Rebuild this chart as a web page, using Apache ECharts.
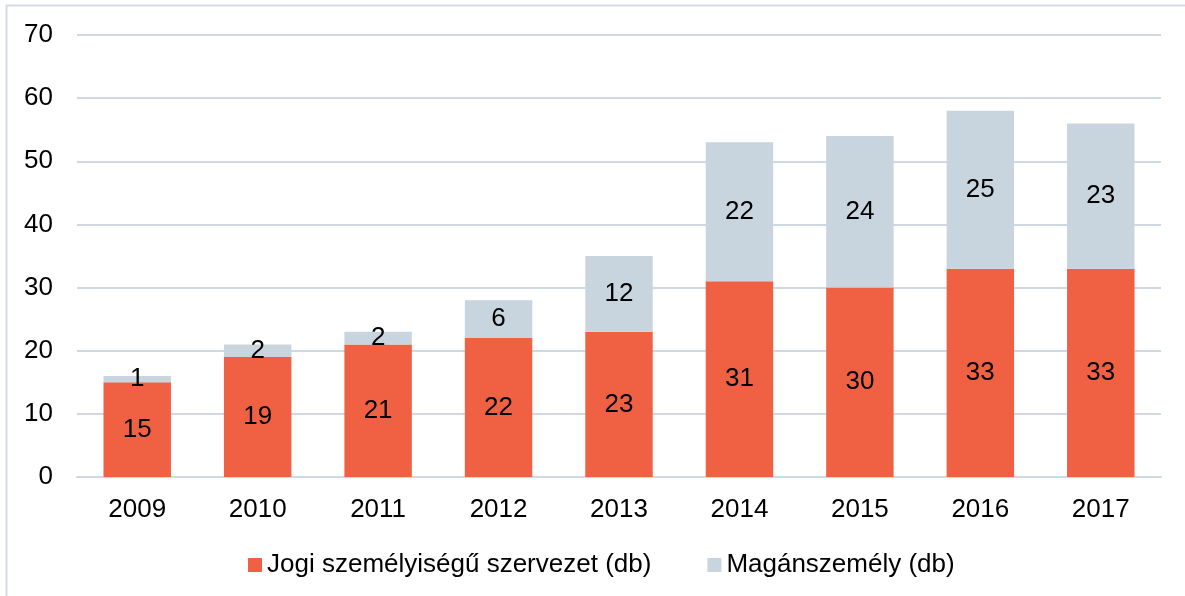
<!DOCTYPE html>
<html><head><meta charset="utf-8">
<script src="https://cdn.jsdelivr.net/npm/echarts@6/dist/echarts.min.js"></script>
<style>html,body{margin:0;padding:0;background:#fff}#c{width:1185px;height:596px}</style>
</head><body><div id="c"></div>
<script>
const categories = ['2009','2010','2011','2012','2013','2014','2015','2016','2017'];
const jogi = [15,19,21,22,23,31,30,33,33];
const magan = [1,2,2,6,12,22,24,25,23];
const yTicks = {min:0, max:70, interval:10};
const names = ['Jogi személyiségű szervezet (db)','Magánszemély (db)'];

const chart = echarts.init(document.getElementById('c'), null, {renderer:'canvas'});
const font = 'Liberation Sans, Arial, sans-serif';
const FS = 26;
const lbl = {show:true, position:'inside', color:'#000', fontSize:FS, fontFamily:font};
chart.setOption({
  animation:false,
  graphic:[{type:'rect', shape:{x:6.5,y:5.5,width:1200,height:620}, style:{fill:'none', stroke:'#D3DCE8', lineWidth:2}, silent:true}],
  grid:{left:77, right:24, top:35, bottom:119, containLabel:false},
  legend:{top:547, left:243, itemWidth:14, itemHeight:14, itemGap:56, icon:'rect',
    textStyle:{fontSize:FS, fontFamily:font, color:'#000'}, data:names},
  xAxis:{type:'category', data:categories,
    axisLine:{show:true, lineStyle:{color:'#D0D8E3', width:2}}, axisTick:{show:false},
    axisLabel:{fontSize:FS, fontFamily:font, color:'#000', margin:20}},
  yAxis:{type:'value', min:yTicks.min, max:yTicks.max, interval:yTicks.interval,
    axisLine:{show:false}, axisTick:{show:false},
    splitLine:{lineStyle:{color:'#D0D8E3', width:2}},
    axisLabel:{fontSize:FS, fontFamily:font, color:'#000', margin:24}},
  series:[
    {name:names[0], type:'bar', stack:'s', data:jogi, barWidth:'56%', itemStyle:{color:'#F06144'}, label:lbl},
    {name:names[1], type:'bar', stack:'s', data:magan, barWidth:'56%', itemStyle:{color:'#C9D5DE'}, label:lbl}
  ]
});
</script></body></html>
